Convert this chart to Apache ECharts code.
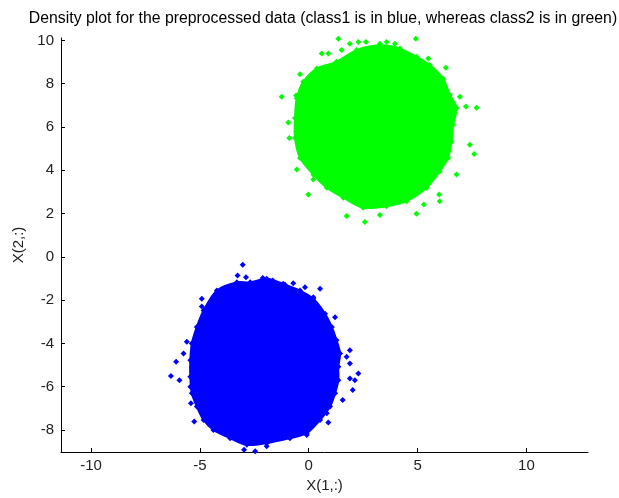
<!DOCTYPE html>
<html>
<head>
<meta charset="utf-8">
<script src="https://cdn.jsdelivr.net/npm/echarts@6/dist/echarts.min.js"></script>
<style>
  html, body { margin: 0; padding: 0; background: #fff; }
  #chart { width: 619px; height: 498px; }
</style>
</head>
<body>
<div id="chart"></div>
<script>
// Axis ranges and tick labels
const xRange = [-11.38, 12.83];
const yRange = [-9.02, 10.11];
const xTicks = [-10, -5, 0, 5, 10];
const yTicks = [-8, -6, -4, -2, 0, 2, 4, 6, 8, 10];

// class2 (green): outline of the solid core of the cloud
const class2Core = [
  [1.28, 9.01], [2.20, 9.55], [3.27, 9.77], [4.19, 9.62], [4.95, 9.24], [5.56, 8.86],
  [6.17, 8.24], [6.48, 7.48], [6.79, 6.87], [6.63, 6.10], [6.56, 5.33], [6.40, 4.57],
  [6.02, 3.95], [5.41, 3.19], [4.50, 2.57], [3.58, 2.34], [2.50, 2.27], [1.59, 2.73],
  [0.83, 3.19], [0.21, 3.80], [-0.40, 4.57], [-0.63, 5.49], [-0.63, 6.41], [-0.55, 7.33],
  [-0.25, 8.09], [0.37, 8.70]
];
// class2: sparse samples outside the core
const class2Sparse = [
  [1.36, 10.08], [4.92, 10.08], [1.89, 9.85], [2.28, 9.93], [2.63, 9.93], [3.27, 9.85],
  [3.58, 9.93], [3.96, 9.85], [-1.24, 7.40], [-0.94, 6.20], [-0.89, 5.49], [7.71, 6.89],
  [7.22, 6.94], [7.40, 5.18], [7.60, 4.75], [6.79, 3.80], [6.30, 8.73], [-0.02, 2.88],
  [1.74, 1.88], [2.58, 1.61], [3.27, 1.93], [4.95, 1.99], [5.29, 2.42], [6.02, 2.57],
  [5.99, 2.88], [6.94, 7.40], [0.60, 9.39], [0.90, 9.39], [1.51, 9.55], [5.49, 9.16],
  [-0.40, 8.43], [-0.58, 7.45], [-0.55, 4.03], [0.21, 3.57]
];

// class1 (blue): outline of the solid core of the cloud
const class1Core = [
  [-4.22, -1.56], [-3.30, -1.18], [-2.69, -1.18], [-1.93, -1.02], [-1.17, -1.25], [-0.40, -1.56],
  [0.21, -1.94], [0.75, -2.63], [1.06, -3.24], [1.28, -3.86], [1.44, -4.47], [1.36, -5.08],
  [1.36, -5.70], [1.21, -6.31], [0.98, -6.92], [0.52, -7.54], [-0.09, -8.15], [-0.86, -8.38],
  [-1.93, -8.61], [-2.84, -8.69], [-3.61, -8.38], [-4.38, -8.00], [-4.83, -7.54], [-5.14, -6.92],
  [-5.37, -6.31], [-5.44, -5.54], [-5.44, -4.78], [-5.37, -4.01], [-5.14, -3.24], [-4.83, -2.48]
];
// class1: sparse samples outside the core
const class1Sparse = [
  [-3.03, -0.37], [-3.27, -0.87], [-2.88, -0.95], [-2.11, -0.98], [-1.65, -1.10], [-1.09, -1.29],
  [-0.17, -1.41], [0.52, -1.48], [-0.71, -1.22], [-4.91, -1.94], [-4.91, -2.30], [-5.60, -3.93],
  [-5.75, -4.47], [-6.09, -4.85], [-6.33, -5.51], [-5.94, -5.70], [-5.44, -6.00], [-5.41, -6.77],
  [-5.26, -7.61], [0.90, -7.66], [1.56, -6.62], [2.02, -6.16], [2.28, -5.39], [2.12, -5.70],
  [1.89, -4.93], [1.89, -4.32], [1.74, -4.62], [0.83, -7.23], [-2.97, -8.92], [-2.46, -8.98],
  [-1.93, -8.76], [-0.09, -8.23], [-3.94, -1.56], [0.21, -1.87], [1.21, -2.79], [1.89, -5.62]
];

const BLUE = '#0000ff';
const GREEN = '#00ff00';
const FONT = '"Liberation Sans", Arial, sans-serif';

function coreSeries(outline, color) {
  return {
    type: 'custom',
    silent: true,
    data: [0],
    renderItem: function (params, api) {
      const pts = outline.map(p => api.coord(p));
      return {
        type: 'polygon',
        shape: { points: pts, smooth: 0.3 },
        style: { fill: color, stroke: color, lineWidth: 2 }
      };
    }
  };
}

function pointSeries(points, color) {
  return {
    type: 'scatter',
    symbol: 'diamond',
    symbolSize: 6,
    silent: true,
    itemStyle: { color: color, opacity: 1 },
    data: points
  };
}

const chart = echarts.init(document.getElementById('chart'), null, { renderer: 'canvas' });
chart.setOption({
  animation: false,
  backgroundColor: '#fff',
  title: {
    text: 'Density plot for the preprocessed data (class1 is in blue, whereas class2 is in green)',
    left: 323,
    top: 11,
    padding: 0,
    textAlign: 'center',
    textStyle: { fontFamily: FONT, fontSize: 15.8, fontWeight: 'normal', color: '#000' }
  },
  grid: { left: 61, right: 31, top: 38, bottom: 44, containLabel: false },
  xAxis: {
    type: 'value',
    min: xRange[0], max: xRange[1],
    name: 'X(1,:)', nameLocation: 'middle', nameGap: 26,
    nameTextStyle: { fontFamily: FONT, fontSize: 15, color: '#222' },
    splitLine: { show: false },
    axisLine: { onZero: false, lineStyle: { color: '#000', width: 1 } },
    axisTick: { inside: true, length: 4, customValues: xTicks, lineStyle: { color: '#000' } },
    axisLabel: { customValues: xTicks, margin: 6, fontFamily: FONT, fontSize: 15, color: '#222' }
  },
  yAxis: {
    type: 'value',
    min: yRange[0], max: yRange[1],
    name: 'X(2,:)', nameLocation: 'middle', nameGap: 33, nameRotate: 90,
    nameTextStyle: { fontFamily: FONT, fontSize: 15, color: '#222' },
    splitLine: { show: false },
    axisLine: { onZero: false, lineStyle: { color: '#000', width: 1 } },
    axisTick: { inside: true, length: 4, customValues: yTicks, lineStyle: { color: '#000' } },
    axisLabel: { customValues: yTicks, margin: 7, fontFamily: FONT, fontSize: 15, color: '#222' }
  },
  series: [
    coreSeries(class2Core, GREEN),
    pointSeries(class2Core, GREEN),
    pointSeries(class2Sparse, GREEN),
    coreSeries(class1Core, BLUE),
    pointSeries(class1Core, BLUE),
    pointSeries(class1Sparse, BLUE)
  ]
});
</script>
</body>
</html>
